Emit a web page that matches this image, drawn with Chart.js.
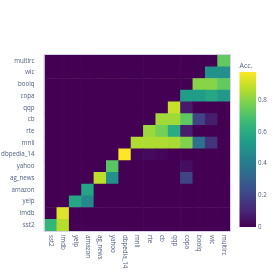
<!DOCTYPE html>
<html>
<head>
<meta charset="utf-8">
<script src="https://cdn.jsdelivr.net/npm/chart.js@4"></script>
<style>
  html, body { margin: 0; padding: 0; background: #fff; }
  #wrap { width: 278px; height: 278px; }
</style>
</head>
<body>
<div id="wrap"><canvas id="heat"></canvas></div>
<script>
// tasks, in training order (columns left->right, rows bottom->top)
const tasks = ["sst2", "imdb", "yelp", "amazon", "ag_news", "yahoo", "dbpedia_14",
  "mnli", "rte", "cb", "qqp", "copa", "boolq", "wic", "multirc"];

// accuracy of each task (row) after each training stage (column)
const accSst2    = [0.65, 0.87, 0, 0, 0, 0, 0, 0, 0, 0, 0, 0, 0, 0, 0];
const accImdb    = [0, 0.93, 0, 0, 0, 0, 0, 0, 0, 0, 0, 0, 0, 0, 0];
const accYelp    = [0, 0, 0.58, 0.46, 0, 0, 0, 0, 0, 0, 0, 0, 0, 0, 0];
const accAmazon  = [0, 0, 0, 0.57, 0, 0, 0, 0, 0, 0, 0, 0, 0, 0, 0];
const accAgNews  = [0, 0, 0, 0, 0.88, 0.49, 0, 0, 0, 0, 0, 0.2, 0, 0, 0];
const accYahoo   = [0, 0, 0, 0, 0, 0.72, 0, 0, 0, 0, 0, 0.04, 0, 0, 0];
const accDbpedia = [0, 0, 0, 0, 0, 0, 0.98, 0.015, 0.025, 0.015, 0, 0, 0, 0, 0];
const accMnli    = [0, 0, 0, 0, 0, 0, 0, 0.86, 0.86, 0.86, 0.85, 0.79, 0.36, 0.15, 0];
const accRte     = [0, 0, 0, 0, 0, 0, 0, 0, 0.83, 0.77, 0.6, 0.08, 0, 0, 0];
const accCb      = [0, 0, 0, 0, 0, 0, 0, 0, 0, 0.84, 0.84, 0.73, 0.2, 0.08, 0];
const accQqp     = [0, 0, 0, 0, 0, 0, 0, 0, 0, 0, 0.9, 0.07, 0, 0, 0];
const accCopa    = [0, 0, 0, 0, 0, 0, 0, 0, 0, 0, 0, 0.54, 0.54, 0.58, 0.52];
const accBoolq   = [0, 0, 0, 0, 0, 0, 0, 0, 0, 0, 0, 0, 0.8, 0.8, 0.74];
const accWic     = [0, 0, 0, 0, 0, 0, 0, 0, 0, 0, 0, 0, 0, 0.5, 0.49];
const accMultirc = [0, 0, 0, 0, 0, 0, 0, 0, 0, 0, 0, 0, 0, 0, 0.74];

const rows = [accSst2, accImdb, accYelp, accAmazon, accAgNews, accYahoo, accDbpedia,
  accMnli, accRte, accCb, accQqp, accCopa, accBoolq, accWic, accMultirc];

const cbTicks = [0, 0.2, 0.4, 0.6, 0.8];
const cbTitle = "Acc.";

const zmin = 0;
const zmax = Math.max(...rows.flat());

const viridis = ["#440154", "#482878", "#3e4989", "#31688e", "#26828e",
  "#1f9e89", "#35b779", "#6ece58", "#b5de2b", "#fde725"];

function hex(c) {
  return [parseInt(c.slice(1, 3), 16), parseInt(c.slice(3, 5), 16), parseInt(c.slice(5, 7), 16)];
}
function colorAt(v) {
  let t = (v - zmin) / (zmax - zmin);
  t = Math.max(0, Math.min(1, t));
  const pos = t * (viridis.length - 1);
  const i = Math.min(Math.floor(pos), viridis.length - 2);
  const f = pos - i;
  const a = hex(viridis[i]), b = hex(viridis[i + 1]);
  const c = a.map((x, k) => Math.round(x + (b[k] - x) * f));
  return `rgb(${c[0]},${c[1]},${c[2]})`;
}

const textColor = "#506080";
const font = { family: "'Open Sans', 'DejaVu Sans', sans-serif", size: 6.2 };

// x labels rotated clockwise, plus colorbar and plot frame
const extras = {
  id: "extras",
  afterDraw(chart) {
    const c = chart.ctx;
    const area = chart.chartArea;
    const xs = chart.scales.x;

    c.save();
    c.strokeStyle = "#d8d2e6";
    c.lineWidth = 1;
    c.strokeRect(area.left - 0.5, area.top - 0.5, area.right - area.left + 1, area.bottom - area.top + 1);

    c.fillStyle = textColor;
    c.font = `${font.size}px ${font.family}`;
    c.textAlign = "left";
    c.textBaseline = "middle";
    tasks.forEach((t, i) => {
      const x = xs.getPixelForTick(i);
      c.save();
      c.translate(x, area.bottom + 4);
      c.rotate(Math.PI / 2);
      c.fillText(t, 0, 0);
      c.restore();
    });

    // colorbar
    const bx = 239.5, bw = 16.5, top = 72, bottom = 227;
    const g = c.createLinearGradient(0, bottom, 0, top);
    viridis.forEach((col, i) => g.addColorStop(i / (viridis.length - 1), col));
    c.fillStyle = g;
    c.fillRect(bx, top, bw, bottom - top);

    c.fillStyle = textColor;
    c.textAlign = "left";
    c.textBaseline = "middle";
    cbTicks.forEach(v => {
      const y = bottom - (v - zmin) / (zmax - zmin) * (bottom - top);
      c.fillText(String(v), bx + bw + 2, y);
    });
    c.font = `7px ${font.family}`;
    c.textBaseline = "alphabetic";
    c.fillText(cbTitle, bx, 68);
    c.restore();
  }
};

const datasets = rows.map((r, i) => ({
  label: tasks[i],
  data: tasks.map(() => 1),
  acc: r,
  backgroundColor: ctx => colorAt(ctx.dataset.acc[ctx.dataIndex]),
  borderWidth: 0,
  categoryPercentage: 1,
  barPercentage: 1
}));

new Chart(document.getElementById("heat"), {
  type: "bar",
  data: { labels: tasks, datasets: datasets },
  options: {
    responsive: true,
    maintainAspectRatio: false,
    animation: false,
    layout: { padding: { left: 0, right: 48, top: 55, bottom: 47 } },
    plugins: { legend: { display: false }, tooltip: { enabled: false } },
    scales: {
      x: {
        stacked: true,
        grid: { display: false },
        border: { display: false },
        ticks: { display: false },
        afterFit: s => { s.height = 0; }
      },
      y: {
        stacked: true,
        min: 0,
        max: tasks.length,
        grid: { display: false },
        border: { display: false },
        afterBuildTicks: s => { s.ticks = tasks.map((_, i) => ({ value: i + 0.5 })); },
        afterFit: s => { s.width = 44.5; },
        ticks: {
          autoSkip: false,
          padding: 2,
          color: textColor,
          font: font,
          callback: v => tasks[Math.floor(v)]
        }
      }
    }
  },
  plugins: [extras]
});
</script>
</body>
</html>
